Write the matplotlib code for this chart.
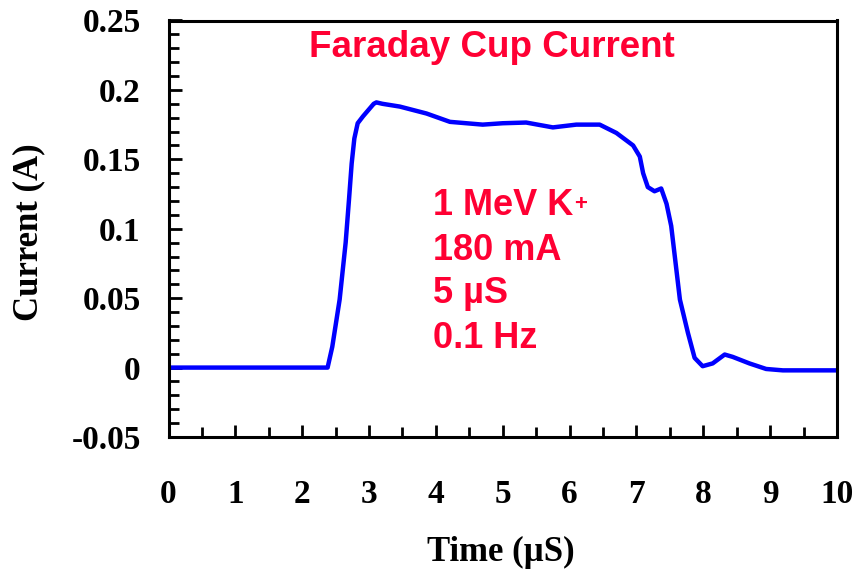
import matplotlib
matplotlib.use("Agg")
import matplotlib.pyplot as plt
from matplotlib.ticker import MultipleLocator, FixedLocator

# ---- data ----
time_us = [0.0, 0.5, 1.0, 1.5, 2.0, 2.3, 2.38, 2.45, 2.56, 2.65, 2.70, 2.74, 2.78, 2.83,
           2.91, 3.07, 3.11, 3.20, 3.46, 3.86, 4.21, 4.70, 5.00, 5.35, 5.75, 6.10, 6.45,
           6.70, 6.95, 7.05, 7.10, 7.17, 7.27, 7.37, 7.45, 7.52, 7.65, 7.77, 7.87, 7.99,
           8.14, 8.32, 8.44, 8.69, 8.94, 9.19, 9.5, 10.0]
current_a = [0.0, 0.0, 0.0, 0.0, 0.0, 0.0, 0.0, 0.015, 0.049, 0.090, 0.121, 0.147, 0.165, 0.176,
             0.181, 0.190, 0.191, 0.190, 0.188, 0.183, 0.177, 0.175, 0.176, 0.1765, 0.173, 0.175, 0.175,
             0.169, 0.160, 0.152, 0.140, 0.130, 0.127, 0.129, 0.118, 0.102, 0.049, 0.025, 0.007, 0.001,
             0.003, 0.0094, 0.0077, 0.003, -0.001, -0.002, -0.002, -0.002]

x_ticks = [0, 1, 2, 3, 4, 5, 6, 7, 8, 9, 10]
x_ticklabels = ["0", "1", "2", "3", "4", "5", "6", "7", "8", "9", "10"]
y_ticks = [-0.05, 0.0, 0.05, 0.1, 0.15, 0.2, 0.25]
y_ticklabels = ["-0.05", "0", "0.05", "0.1", "0.15", "0.2", "0.25"]

title_text = "Faraday Cup Current"
info_lines = ["1 MeV K", "180 mA", "5 \u00b5S", "0.1 Hz"]
superscript = "+"
xlabel_text = "Time (\u00b5S)"
ylabel_text = "Current (A)"

RED = "#FF0033"
BLUE = "#0000FF"
W, H = 855, 574

fig = plt.figure(figsize=(W / 100, H / 100), dpi=100)
ax = fig.add_axes([168.5 / W, 1 - 437 / H, (837 - 168.5) / W, (437 - 20.5) / H])

ax.plot(time_us, current_a, color=BLUE, linewidth=3.2, solid_joinstyle='round')

ax.set_xlim(0, 10)
ax.set_ylim(-0.05, 0.25)
ax.xaxis.set_major_locator(FixedLocator(x_ticks))
ax.xaxis.set_minor_locator(MultipleLocator(0.5))
ax.yaxis.set_major_locator(FixedLocator(y_ticks))
ax.yaxis.set_minor_locator(MultipleLocator(0.01))
ax.set_xticklabels(x_ticklabels)
ax.set_yticklabels(y_ticklabels)

for lab in ax.get_xticklabels() + ax.get_yticklabels():
    lab.set_fontfamily("Liberation Serif")
    lab.set_fontweight("bold")
    lab.set_fontsize(24)

ax.tick_params(axis='both', which='both', direction='in', top=False, right=False, width=2)
ax.tick_params(axis='both', which='major', length=9)
ax.tick_params(axis='both', which='minor', length=7)
ax.tick_params(axis='x', which='major', pad=30)
ax.tick_params(axis='y', which='major', pad=20)

for sp in ax.spines.values():
    sp.set_linewidth(2.2)
    sp.set_color("black")

labelfont = dict(family="Liberation Serif", weight="bold", size=25)
fig.text(501 / W, 1 - 561 / H, xlabel_text, ha='center', va='baseline', **labelfont)
fig.text(28.5 / W, 1 - 232 / H, ylabel_text, ha='center', va='center', rotation=90, **labelfont)

fig.text(491.5 / W, 1 - 56.7 / H, title_text, ha='center', va='baseline',
         family="Liberation Sans", weight="bold", size=26.5, color=RED)

baselines = [215, 260, 303, 348]
for line, b in zip(info_lines, baselines):
    fig.text(433 / W, 1 - b / H, line, ha='left', va='baseline',
             family="Liberation Sans", weight="bold", size=26, color=RED)
fig.text(574 / W, 1 - 210 / H, superscript, ha='left', va='baseline',
         family="Liberation Sans", weight="bold", size=16, color=RED)

fig.savefig("out.png", dpi=100)
